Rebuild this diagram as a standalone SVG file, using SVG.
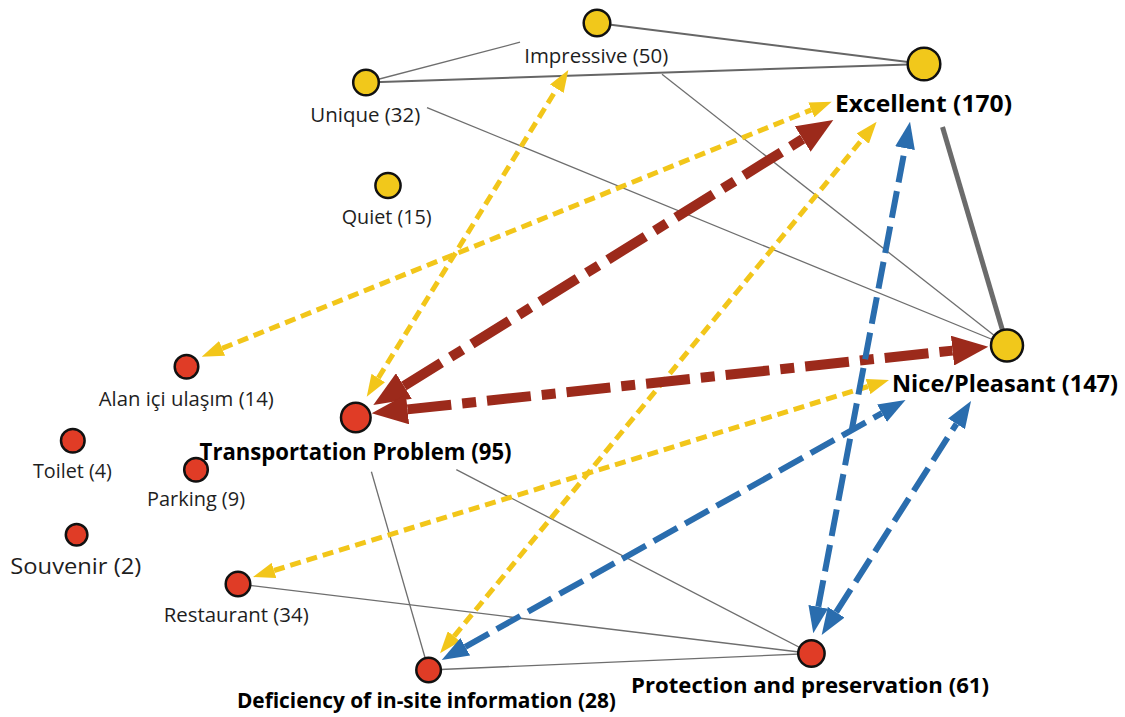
<svg xmlns="http://www.w3.org/2000/svg" width="1125" height="717" viewBox="0 0 1125 717">
<defs>
<style>
.ny{fill:#f1c81b;stroke:#111;stroke-width:2.5}
.nr{fill:#e03c26;stroke:#111;stroke-width:2.5}
.lb{font-family:"Open Sans","Noto Sans",sans-serif;font-size:19.5px;fill:#1e1e1e;text-anchor:middle}
.bd{font-weight:bold;fill:#000;font-size:23px}
.g{stroke:#6e6e6e;stroke-width:1.3;fill:none}
.g2{stroke:#666;stroke-width:2;fill:none}
.g5{stroke:#6b6b6b;stroke-width:5;fill:none}
.ay{stroke:#f2c61a;stroke-width:5;stroke-dasharray:11 6;fill:none}
.ar{stroke:#9c2a1b;stroke-width:10;stroke-dasharray:44 11 14 11;fill:none}
.ab{stroke:#2a6dae;stroke-width:6;stroke-dasharray:27 9;fill:none}
</style>
<marker id="hy" markerUnits="userSpaceOnUse" markerWidth="22" markerHeight="16" refX="0" refY="8" orient="auto-start-reverse"><path d="M0,0 L22,8 L0,16 z" fill="#f2c61a"/></marker>
<marker id="hr" markerUnits="userSpaceOnUse" markerWidth="36" markerHeight="30" refX="0" refY="15" orient="auto-start-reverse"><path d="M0,0 L36,15 L0,30 z" fill="#9c2a1b"/></marker>
<marker id="hb" markerUnits="userSpaceOnUse" markerWidth="27" markerHeight="20" refX="0" refY="10" orient="auto-start-reverse"><path d="M0,0 L27,10 L0,20 z" fill="#2a6dae"/></marker>
</defs>
<rect width="1125" height="717" fill="#fff"/>
<g id="connectors">
<line class="g2" x1="597" y1="23" x2="924" y2="64"/>
<line class="g2" x1="366" y1="82.5" x2="924" y2="64"/>
<line class="g" x1="366" y1="82.5" x2="520" y2="42.2"/>
<line class="g" x1="427" y1="107.6" x2="1007" y2="345.5"/>
<line class="g" x1="662" y1="74.3" x2="1007" y2="345.5"/>
<line class="g5" x1="942.5" y1="127" x2="1007" y2="345.5"/>
<line class="g" x1="371.4" y1="471.7" x2="428.6" y2="670"/>
<line class="g" x1="456.3" y1="469.6" x2="811.4" y2="653.5"/>
<line class="g" x1="238" y1="584" x2="811.4" y2="653.5"/>
<line class="g" x1="428.6" y1="670" x2="811.4" y2="653.5"/>
<line class="ay" x1="222.1" y1="348.4" x2="811.3" y2="109.9" marker-start="url(#hy)" marker-end="url(#hy)"/>
<line class="ay" x1="454.0" y1="636.3" x2="862.7" y2="138.7" marker-start="url(#hy)" marker-end="url(#hy)"/>
<line class="ay" x1="378.3" y1="378.0" x2="556.8" y2="88.7" marker-start="url(#hy)" marker-end="url(#hy)"/>
<line class="ay" x1="274.0" y1="570.5" x2="868.0" y2="386.5" marker-start="url(#hy)" marker-end="url(#hy)"/>
<line class="ar" x1="403.9" y1="386.0" x2="802.7" y2="139.0" marker-start="url(#hr)" marker-end="url(#hr)"/>
<line class="ar" x1="407.5" y1="409.4" x2="952.5" y2="350.6" marker-start="url(#hr)" marker-end="url(#hr)"/>
<line class="ab" x1="818.3" y1="606.8" x2="905.0" y2="148.2" marker-start="url(#hb)" marker-end="url(#hb)"/>
<line class="ab" x1="836.2" y1="612.2" x2="956.5" y2="423.8" marker-start="url(#hb)" marker-end="url(#hb)"/>
<line class="ab" x1="465.3" y1="646.8" x2="882.0" y2="413.2" marker-start="url(#hb)" marker-end="url(#hb)"/>
</g>
<g id="n-impressive"><circle class="ny" cx="597" cy="23" r="13.3"/><text class="lb" x="596.2" y="63.3" textLength="144" lengthAdjust="spacingAndGlyphs">Impressive (50)</text></g>
<g id="n-unique"><circle class="ny" cx="366" cy="82.5" r="12.8"/><text class="lb" x="365.3" y="121.5" textLength="110" lengthAdjust="spacingAndGlyphs">Unique (32)</text></g>
<g id="n-excellent"><circle class="ny" cx="924" cy="64" r="16.3"/><text class="lb bd" x="923.5" y="111.7" style="font-size:24px" textLength="177" lengthAdjust="spacingAndGlyphs">Excellent (170)</text></g>
<g id="n-quiet"><circle class="ny" cx="388" cy="185.5" r="12.6"/><text class="lb" x="386.7" y="224" textLength="90" lengthAdjust="spacingAndGlyphs">Quiet (15)</text></g>
<g id="n-nice"><circle class="ny" cx="1007" cy="345.5" r="16"/><text class="lb bd" x="1005" y="391.7" textLength="226" lengthAdjust="spacingAndGlyphs">Nice/Pleasant (147)</text></g>
<g id="n-alan"><circle class="nr" cx="186.5" cy="366.7" r="11.8"/><text class="lb" x="186.3" y="406" textLength="175" lengthAdjust="spacingAndGlyphs">Alan içi ulaşım (14)</text></g>
<g id="n-transportation"><circle class="nr" cx="355.8" cy="417.5" r="14.8"/><text class="lb bd" x="355.6" y="460" textLength="312" lengthAdjust="spacingAndGlyphs">Transportation Problem (95)</text></g>
<g id="n-toilet"><circle class="nr" cx="72.8" cy="440.8" r="11.8"/><text class="lb" x="72.4" y="477.7" textLength="79" lengthAdjust="spacingAndGlyphs">Toilet (4)</text></g>
<g id="n-parking"><circle class="nr" cx="196" cy="469.7" r="11.8"/><text class="lb" x="196" y="506" textLength="98" lengthAdjust="spacingAndGlyphs">Parking (9)</text></g>
<g id="n-souvenir"><circle class="nr" cx="76.6" cy="534.7" r="10.8"/><text class="lb" x="75.8" y="574.3" style="font-size:22.5px" textLength="131" lengthAdjust="spacingAndGlyphs">Souvenir (2)</text></g>
<g id="n-restaurant"><circle class="nr" cx="238" cy="584" r="12.3"/><text class="lb" x="236.2" y="622" textLength="145" lengthAdjust="spacingAndGlyphs">Restaurant (34)</text></g>
<g id="n-deficiency"><circle class="nr" cx="428.6" cy="670" r="12.3"/><text class="lb bd" x="426.4" y="708.3" style="font-size:21px" textLength="379" lengthAdjust="spacingAndGlyphs">Deficiency of in-site information (28)</text></g>
<g id="n-protection"><circle class="nr" cx="811.4" cy="653.5" r="13.2"/><text class="lb bd" x="810" y="693.3" style="font-size:21px" textLength="358" lengthAdjust="spacingAndGlyphs">Protection and preservation (61)</text></g>
</svg>
